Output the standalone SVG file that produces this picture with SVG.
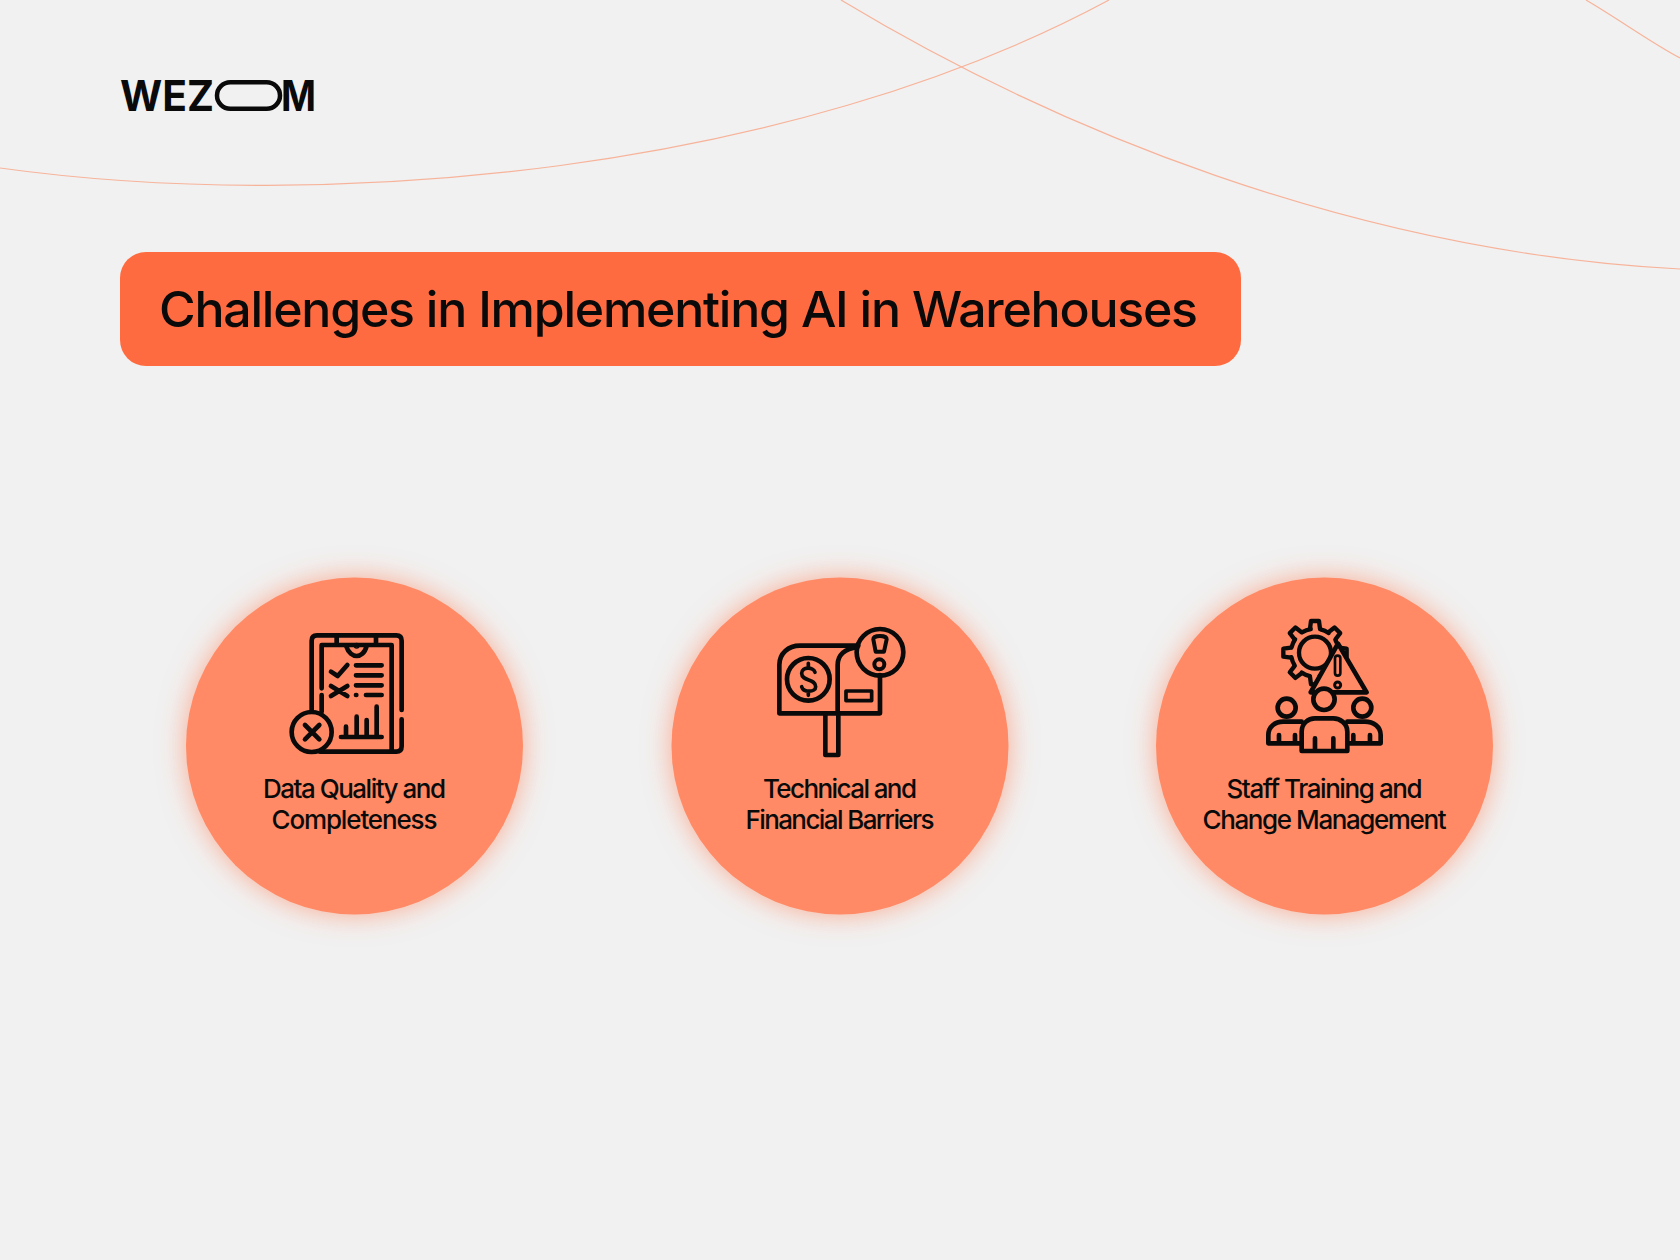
<svg xmlns="http://www.w3.org/2000/svg" width="1680" height="1260" viewBox="0 0 1680 1260">
<style>
.arc{fill:none;stroke:#f7b39a;stroke-width:1.2}
.c{fill:#ff8a65;filter:url(#glow)}
.lb{font-family:Inter,"Noto Sans",sans-serif;font-size:26px;font-weight:450;fill:#0a0a0a;text-anchor:middle}
.ic{fill:none;stroke:#0a0a0a;stroke-width:14;stroke-linecap:round;stroke-linejoin:round}
.logo{font-family:Inter,"Liberation Sans",sans-serif;font-weight:700;font-size:43px;fill:#0a0a0a}
</style>
<defs>
<filter id="glow" x="-30%" y="-30%" width="160%" height="160%"><feDropShadow dx="0" dy="0" stdDeviation="14" flood-color="#ff7a50" flood-opacity="0.6"/></filter>
</defs>
<rect width="1680" height="1260" fill="#f1f1f1"/>
<g id="bg-arcs">
<path class="arc" d="M0 168C330 214 790 172 1109 0"/>
<path class="arc" d="M841 0C1050 126 1350 252 1680 269"/>
<path class="arc" d="M1586 0C1620 20 1650 42 1680 58"/>
</g>
<g id="logo">
<text class="logo" x="120" y="111" textLength="94" lengthAdjust="spacingAndGlyphs">WEZ</text>
<rect x="217" y="82.200" width="63" height="26.600" rx="13.300" fill="none" stroke="#0a0a0a" stroke-width="4.500"/>
<text class="logo" x="281" y="111" textLength="35" lengthAdjust="spacingAndGlyphs">M</text>
</g>
<g id="title">
<rect x="120" y="252" width="1121" height="114" rx="26" fill="#ff6b40"/>
<text x="159" y="327" font-family="Inter,'Noto Sans',sans-serif" font-size="50" font-weight="550" fill="#0a0a0a" textLength="1039">Challenges in Implementing AI in Warehouses</text>
</g>
<g id="node-data-quality">
<circle class="c" cx="354.500" cy="746" r="168.500"/>
<g class="ic" transform="translate(270 610) scale(.3333)">
<path d="M125 300V92Q125 76 141 76H379Q395 76 395 92V300M395 328V409Q395 425 379 425H150"/>
<path d="M155 235V105H365V420M155 255V305M200 76V105M318 76V105"/>
<path d="M228 107C235 130 250 138 260 138C270 138 285 130 290 107"/>
<circle cx="260" cy="107" r="2"/>
<path d="M183 185L203 198L232 165M258 166H335M258 196H335M258 226H335M258 255H259M288 255H335M183 228L232 258M232 228L183 258"/>
<path d="M213 381H335M228 350V380M260 320V380M290 330V380M320 290V380"/>
<circle cx="125" cy="366" r="60" fill="#ff8a65"/>
<path d="M105 345L148 388M148 345L105 388"/>
</g>
<text class="lb" x="354.500" y="798" textLength="183">Data Quality and</text>
<text class="lb" x="354.500" y="829" textLength="166">Completeness</text>
</g>
<g id="node-technical">
<circle class="c" cx="840" cy="746" r="168.500"/>
<g class="ic" transform="translate(760 610) scale(.3333)">
<path d="M58 310V165C58 130 85 107 120 107H295M58 310H360V195M233 310V165C233 135 255 115 292 112"/>
<circle cx="145" cy="208" r="64"/>
<path d="M165 187C160 170 125 170 125 190C125 215 167 205 167 230C167 248 130 248 125 230M145 160V172M145 245V256" stroke-width="11"/>
<rect x="258" y="243" width="77" height="29" stroke-width="11"/>
<path d="M196 312V435H235V312"/>
<circle cx="360" cy="127" r="70"/>
<path d="M340 88C340 75 380 75 380 88L372 125H347Z" stroke-width="12"/>
<circle cx="358" cy="163" r="15" stroke-width="12"/>
</g>
<text class="lb" x="840" y="798" textLength="154">Technical and</text>
<text class="lb" x="840" y="829" textLength="189">Financial Barriers</text>
</g>
<g id="node-staff">
<circle class="c" cx="1324.500" cy="746" r="168.500"/>
<g class="ic" transform="translate(1250 605) scale(.3333)">
<g transform="translate(195 143)" stroke-width="13">
<circle r="72" stroke-dasharray="26.500 30" stroke-dashoffset="41.500"/>
<circle r="48"/>
<path id="t" d="M-15-72L-12-95H12L15-72"/>
<use href="#t" transform="rotate(45)"/><use href="#t" transform="rotate(90)"/><use href="#t" transform="rotate(135)"/><use href="#t" transform="rotate(180)"/><use href="#t" transform="rotate(225)"/><use href="#t" transform="rotate(270)"/><use href="#t" transform="rotate(315)"/>
</g>
<path d="M264 116L350 262H182Z" fill="#ff8a65"/>
<rect x="255" y="152" width="16" height="60" rx="8" stroke-width="8"/>
<circle cx="263" cy="240" r="9" stroke-width="9"/>
<circle cx="222" cy="283" r="32" fill="#ff8a65"/>
<circle cx="110" cy="308" r="27"/>
<circle cx="337" cy="308" r="27"/>
<path d="M155 350H100C75 350 55 365 55 390V415H155M87 390V415M135 390V415"/>
<path d="M292 350H345C370 350 392 365 392 390V415H292M310 390V415M360 390V415"/>
<path d="M155 438V380C155 355 175 340 195 340H250C270 340 292 355 292 380V438ZM195 400V435M250 400V435" fill="#ff8a65"/>
</g>
<text class="lb" x="1324.500" y="798" textLength="196">Staff Training and</text>
<text class="lb" x="1324.500" y="829" textLength="244">Change Management</text>
</g>
</svg>
